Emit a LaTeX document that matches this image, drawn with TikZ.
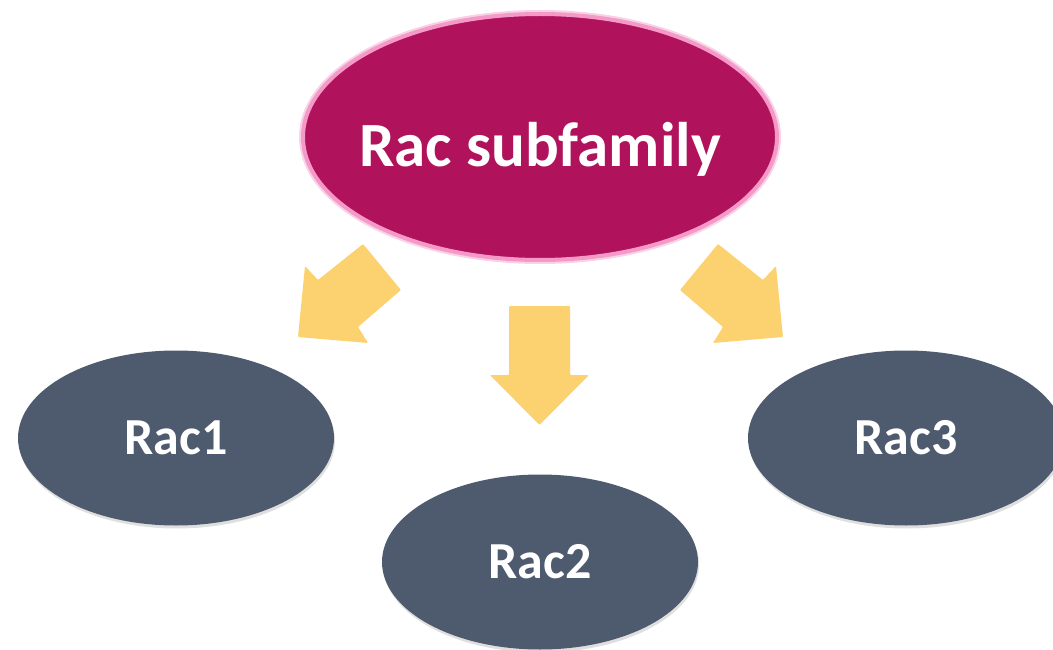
\documentclass[tikz,border=0pt]{standalone}
\usepackage{fontspec}
\setmainfont{Carlito}
\usepackage{xcolor}
\usetikzlibrary{shapes.geometric, shadows}
\definecolor{racmagenta}{HTML}{B0125B}
\definecolor{racglow}{HTML}{F59AC8}
\definecolor{racslate}{HTML}{4E5A6E}
\definecolor{racyellow}{HTML}{FCD270}

\begin{document}
\begin{tikzpicture}[x=1pt, y=-1pt,
    family/.style={ellipse, fill=racmagenta, draw=racglow, line width=4pt,
      minimum width=474pt, minimum height=246pt, inner sep=0pt},
    familytext/.style={text=white, inner sep=0pt, font=\bfseries\fontsize{63}{70}\selectfont},
    member/.style={ellipse, fill=racslate, minimum width=316pt, minimum height=175pt,
      inner sep=0pt, text=white, font=\bfseries\fontsize{52}{60}\selectfont,
      drop shadow={opacity=0.25, shadow xshift=1pt, shadow yshift=-3pt}},
    blockarrow/.style={fill=racyellow, rounded corners=1pt}]
                      \useasboundingbox (0,0) rectangle (1053,650);
                      \clip (0,0) rectangle (1053,650);

                      \node[family, draw=racglow!45, line width=8pt] (glow) at (540, 137) {};
                      \node[family] (sub) at (540, 137) {};
                      \node[familytext, anchor=base] (subtext) at (540, 167) {Rac subfamily};
                      \node[member] (rac1) at (176, 438) {Rac1};
                      \node[member] (rac2) at (540, 562) {Rac2};
                      \node[member] (rac3) at (906, 438) {Rac3};

                      %Arrows
                      \fill[blockarrow] (363,244) -- (401,290) -- (358,327) -- (368,343)
                        -- (298,337) -- (305,266) -- (318,280) -- cycle;
                      \fill[blockarrow] (509,306) -- (570,306) -- (570,375) -- (589,375)
                        -- (539.5,425) -- (490,375) -- (509,375) -- cycle;
                      \fill[blockarrow] (718,244) -- (680,290) -- (723,327) -- (713,343)
                        -- (783,337) -- (776,266) -- (763,280) -- cycle;
                    \end{tikzpicture}
\end{document}
